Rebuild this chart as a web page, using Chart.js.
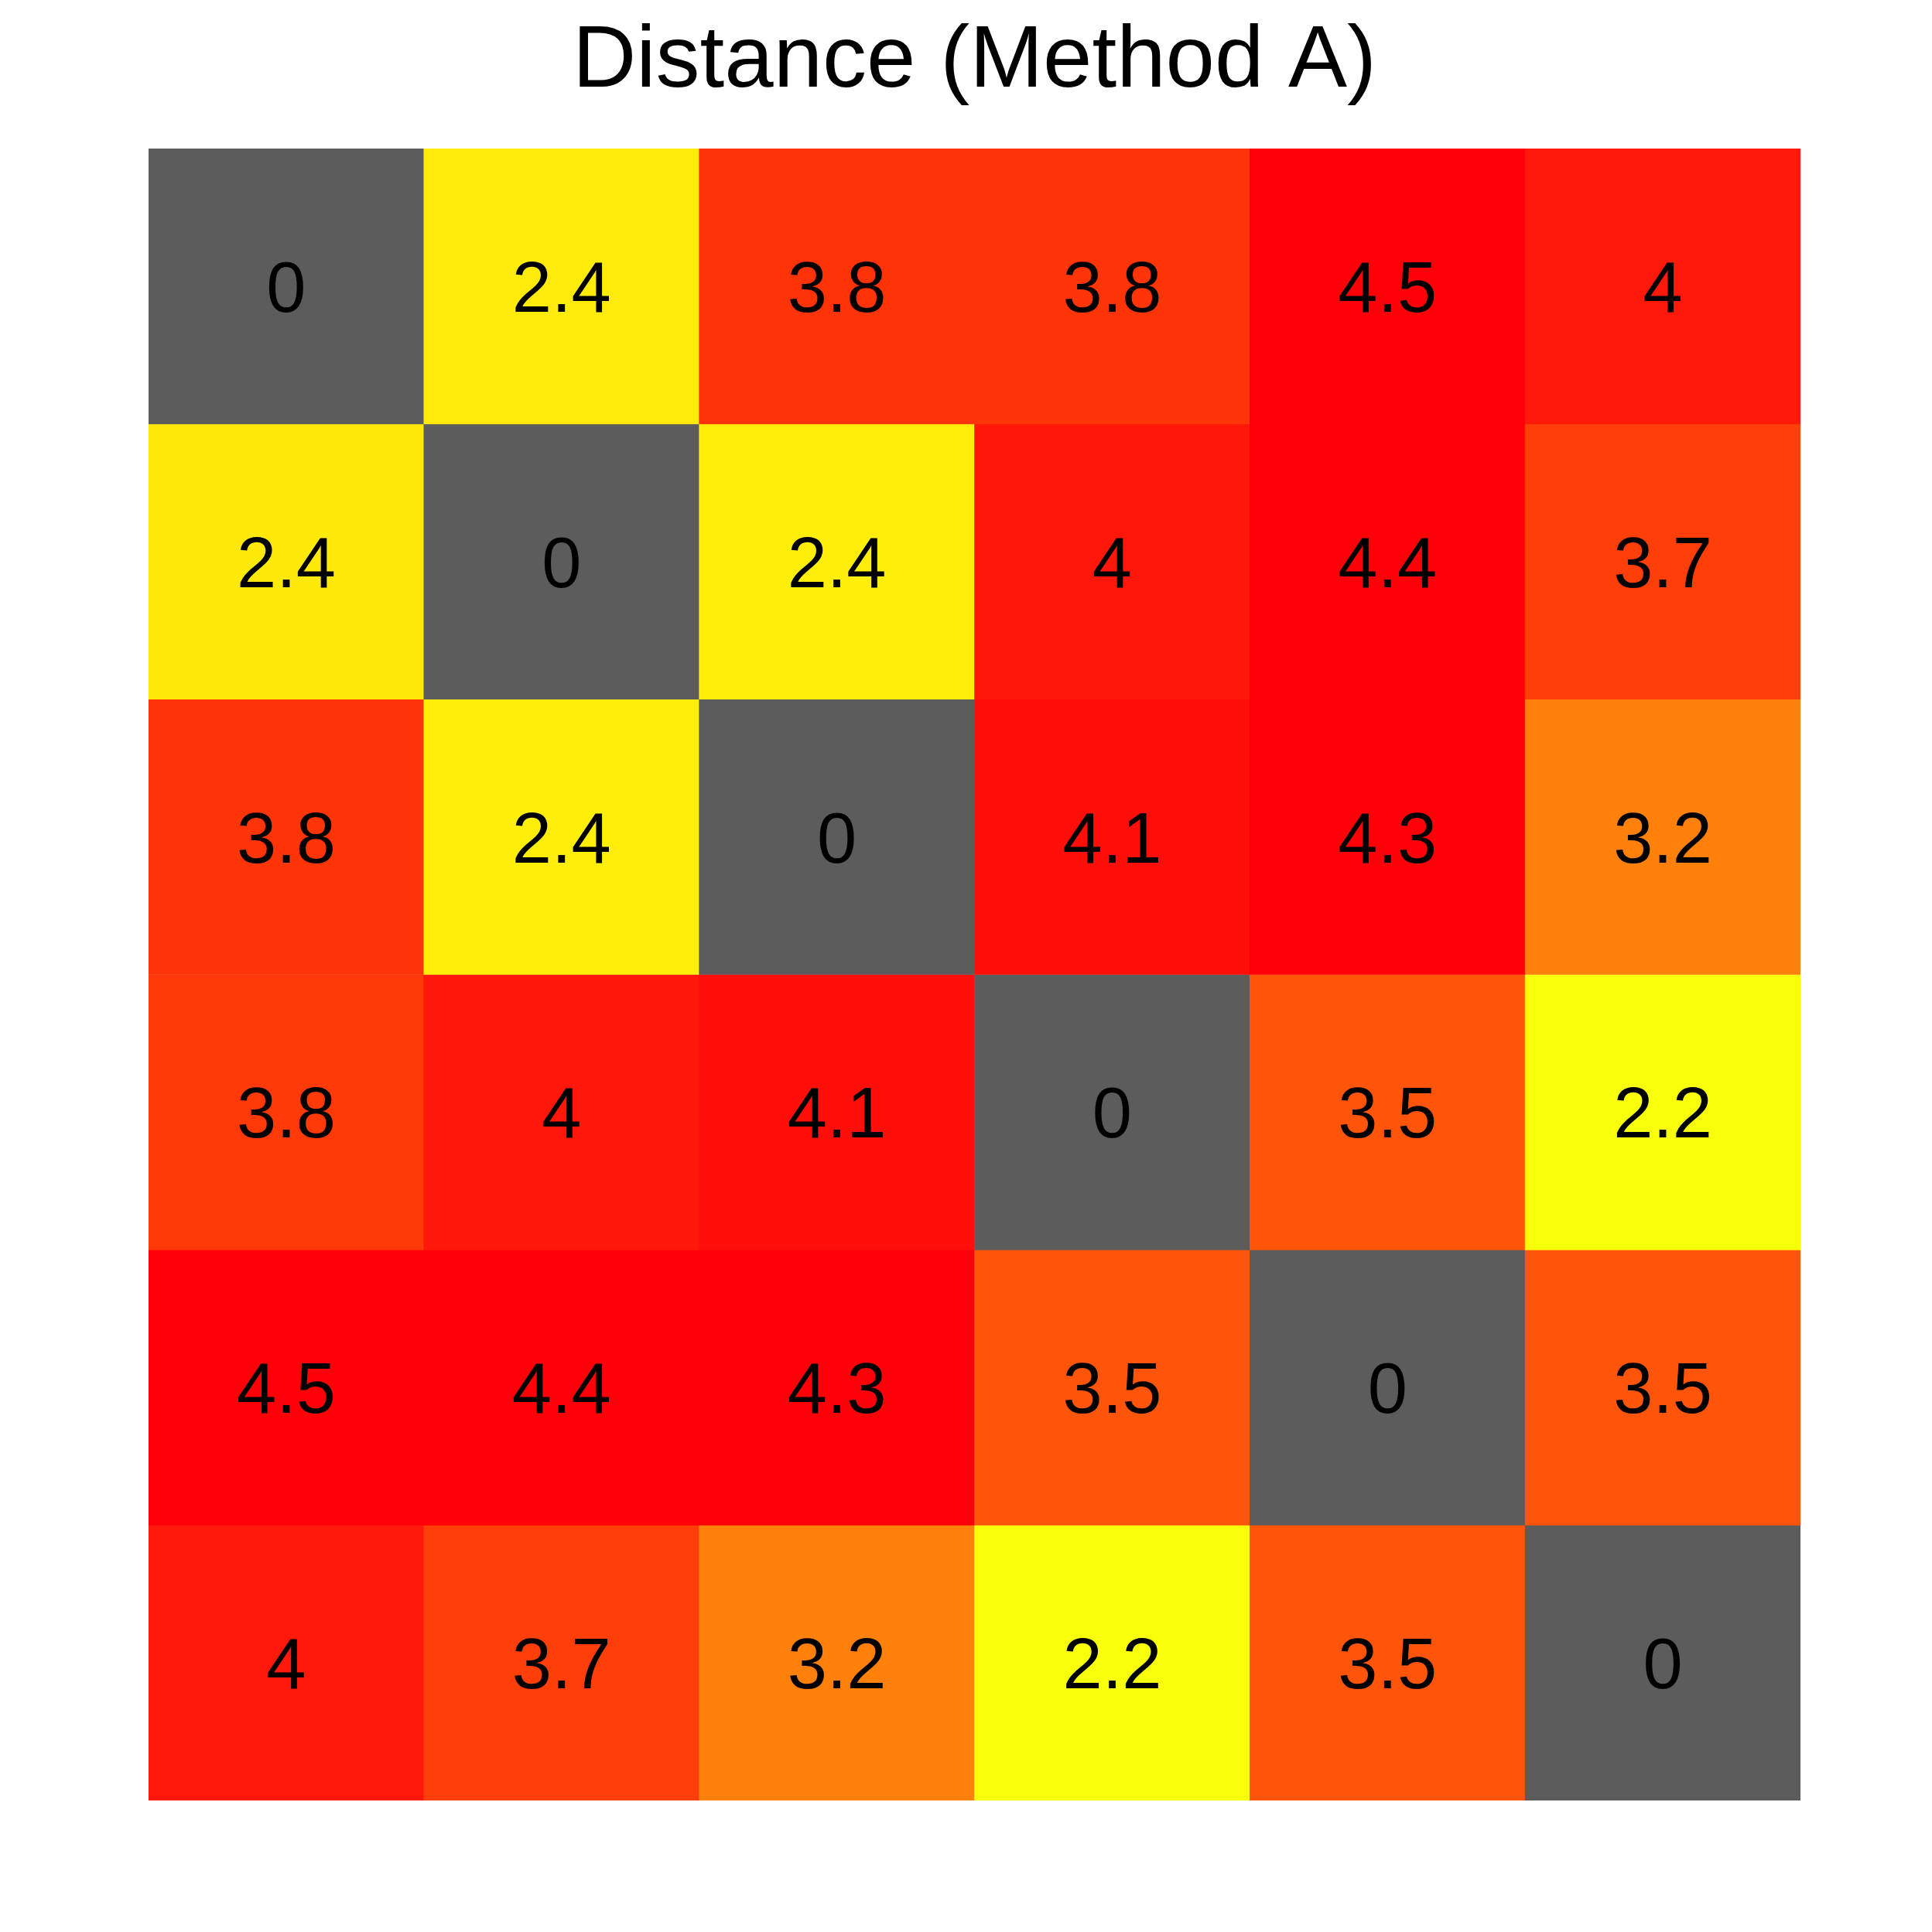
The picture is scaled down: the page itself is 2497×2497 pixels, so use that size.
<!DOCTYPE html>
<html>
<head>
<meta charset="utf-8">
<title>Distance (Method A)</title>
<script src="https://cdn.jsdelivr.net/npm/chart.js@4/dist/chart.umd.min.js"></script>
<style>
    html, body { margin: 0; padding: 0; background: #ffffff; }
    #wrap { width: 2497px; height: 2497px; }
</style>
</head>
<body>
<div id="wrap"><canvas id="heatmap"></canvas></div>
<script>
// Etiquetas das linhas e colunas (não exibidas)
const rowLabels = ['1', '2', '3', '4', '5', '6'];
const colLabels = ['1', '2', '3', '4', '5', '6'];

// Matriz de distâncias, uma linha por array
const row1 = [0,    2.41, 3.82, 3.80, 4.50, 4.02];
const row2 = [2.42, 0,    2.38, 4.03, 4.40, 3.72];
const row3 = [3.80, 2.38, 0,    4.10, 4.32, 3.20];
const row4 = [3.76, 4.03, 4.10, 0,    3.50, 2.20];
const row5 = [4.50, 4.40, 4.32, 3.50, 0,    3.50];
const row6 = [4.02, 3.72, 3.20, 2.20, 3.50, 0];
const distance = [row1, row2, row3, row4, row5, row6];

// Escala de cores (valor -> rgb), tipo "heat"
const colorStops = [
    [2.2, 248, 255, 10],
    [2.4, 255, 236, 10],
    [3.2, 255, 128, 10],
    [3.5, 255, 85, 10],
    [3.8, 255, 53, 8],
    [4.0, 255, 28, 10],
    [4.1, 255, 14, 10],
    [4.3, 255, 0, 8]
];
const zeroColor = '#5c5c5c';
const fontFamily = '"Liberation Sans", Arial, Helvetica, sans-serif';

function heatColor(v) {
    if (v === 0) return zeroColor;
    if (v <= colorStops[0][0]) return `rgb(${colorStops[0].slice(1).join(',')})`;
    for (let i = 1; i < colorStops.length; i++) {
        const a = colorStops[i - 1], b = colorStops[i];
        if (v <= b[0]) {
            const t = (v - a[0]) / (b[0] - a[0]);
            const c = [1, 2, 3].map(k => Math.round(a[k] + (b[k] - a[k]) * t));
            return `rgb(${c.join(',')})`;
        }
    }
    const last = colorStops[colorStops.length - 1];
    return `rgb(${last.slice(1).join(',')})`;
}

function formatValue(v) {
    return String(Number(v.toFixed(1)));
}

// Plugin para escrever os valores no centro de cada célula
const cellLabels = {
    id: 'cellLabels',
    afterDatasetsDraw(chart) {
        const ctx = chart.ctx;
        const size = 92;
        ctx.save();
        ctx.fillStyle = '#000000';
        ctx.font = `${size}px ${fontFamily}`;
        ctx.textAlign = 'center';
        ctx.textBaseline = 'alphabetic';
        chart.data.datasets.forEach((ds, i) => {
            const meta = chart.getDatasetMeta(i);
            meta.data.forEach((bar, j) => {
                // centra os algarismos (altura ~0.716 em) na célula
                const cy = (bar.y + bar.base) / 2 + size * 0.358;
                ctx.fillText(formatValue(distance[i][j]), bar.x, cy);
            });
        });
        ctx.restore();
    }
};

// Cada linha vira um conjunto de barras flutuantes [r, r+1]
const datasets = distance.map((row, r) => ({
    label: rowLabels[r],
    data: row.map(() => [r, r + 1]),
    backgroundColor: row.map(heatColor),
    borderWidth: 0,
    borderSkipped: false,
    categoryPercentage: 1.0,
    barPercentage: 1.0,
    grouped: false
}));

const ctx = document.getElementById('heatmap');
new Chart(ctx, {
    type: 'bar',
    data: {
        labels: colLabels,
        datasets: datasets
    },
    options: {
        responsive: true,
        maintainAspectRatio: false,
        animation: false,
        layout: {
            padding: { top: 0, left: 192, right: 170, bottom: 170 }
        },
        plugins: {
            legend: { display: false },
            tooltip: { enabled: false },
            title: {
                display: true,
                text: 'Distance (Method A)',
                color: '#000000',
                font: { family: fontFamily, size: 114, weight: 'normal' },
                padding: { top: 12, bottom: 43.2 }
            }
        },
        scales: {
            x: {
                display: false,
                offset: true,
                grid: { display: false }
            },
            y: {
                type: 'linear',
                display: false,
                min: 0,
                max: 6,
                reverse: true,
                grid: { display: false }
            }
        }
    },
    plugins: [cellLabels]
});
</script>
</body>
</html>
